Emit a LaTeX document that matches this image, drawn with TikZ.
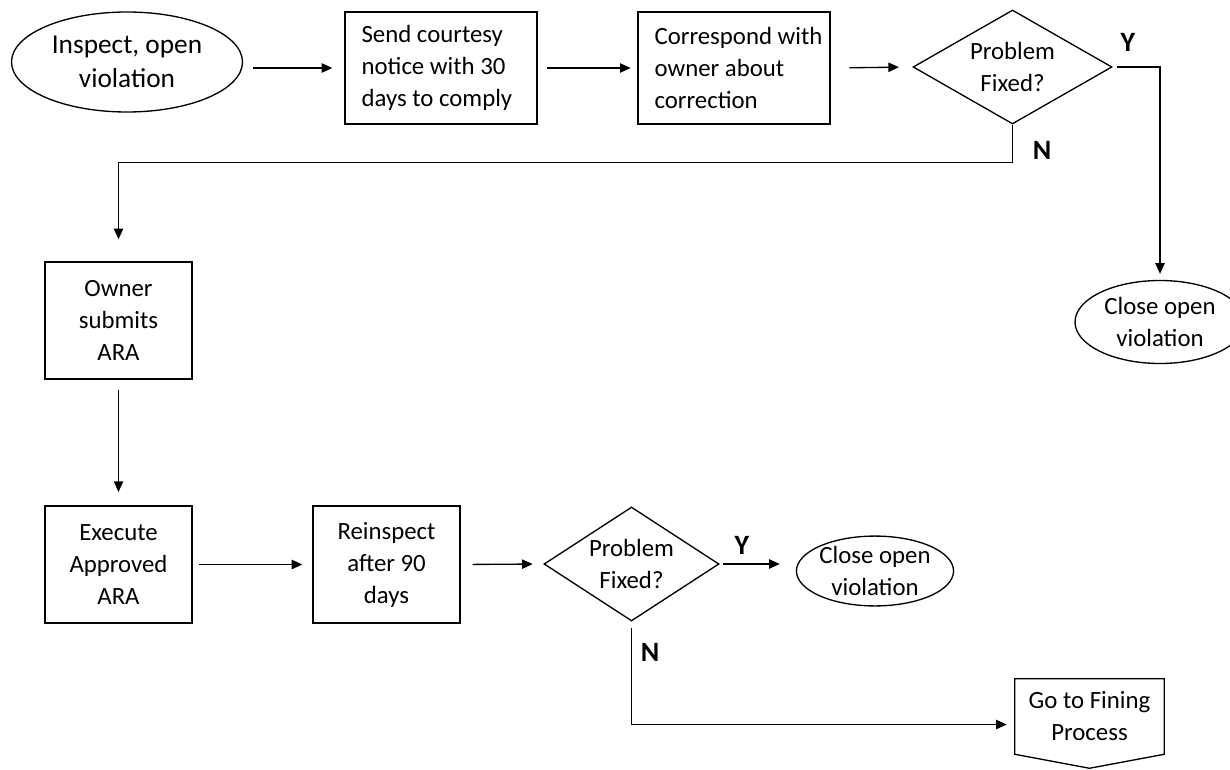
\documentclass[tikz,border=0pt]{standalone}
\usepackage{fontspec}
\setmainfont{Carlito}
\usetikzlibrary{shapes.geometric,arrows.meta,calc}
\begin{document}
\begin{tikzpicture}[x=0.75pt,y=-0.75pt,
  every node/.style={font=\fontsize{18.6}{24}\selectfont, inner sep=0pt},
  base/.style={draw, line width=1pt},
  procbox/.style={base, rectangle, minimum width=110.25pt, minimum height=87.75pt, align=center},
  notebox/.style={base, rectangle, minimum width=144pt, minimum height=84pt},
  notetext/.style={anchor=west, align=flush left},
  term/.style={base, ellipse, align=center},
  decision/.style={base, diamond, align=center},
  yn/.style={font=\fontsize{21}{24}\selectfont\bfseries},
  conn/.style={line width=1pt, -{Triangle[length=8pt,width=7pt]}},
  plain/.style={line width=1pt}
]
\useasboundingbox (0,0) rectangle (1230,770);

\node[term, minimum width=173.25pt, minimum height=75pt, font=\fontsize{20.5}{25}\selectfont] (e1) at (127,62) {Inspect, open\\violation};
\node[notebox] (b1) at (441,68) {};
\node[notetext] (t1) at ($(b1.west)+(17,0)$) {Send courtesy\\notice with 30\\days to comply};
\node[notebox] (b2) at (734,68) {};
\node[notetext] (t2) at ($(b2.west)+(17,0)$) {Correspond with\\owner about\\correction};
\node[decision, aspect=1.75, minimum width=149.25pt, minimum height=85.5pt] (d1) at (1012.5,67) {Problem\\Fixed?};
\node[term, minimum width=127.5pt, minimum height=62.25pt] (e2) at (1160,322) {Close open\\violation};
\node[procbox] (b3) at (118.5,320.5) {Owner\\submits\\ARA};
\node[procbox] (b4) at (118.5,564.5) {Execute\\Approved\\ARA};
\node[procbox] (b5) at (386.5,564.5) {Reinspect\\after 90\\days};
\node[decision, aspect=1.54, minimum width=131.25pt, minimum height=85.5pt] (d2) at (631.5,564) {Problem\\Fixed?};
\node[term, minimum width=115.5pt, minimum height=51pt] (e3) at (875,571) {Close open\\violation};
\node[rectangle, minimum width=111.75pt, minimum height=56.25pt, align=center] (fin) at (1089.5,716.5) {Go to Fining\\Process};
\draw[plain, line join=miter] (fin.north west) -- (fin.north east) -- (fin.south east) -- ($(fin.south)+(0,14)$) -- (fin.south west) -- cycle;

\node[yn] (y1) at (1128,42) {Y};
\node[yn] (n1) at (1042,150) {N};
\node[yn] (y2) at (742,545) {Y};
\node[yn] (n2) at (650,652) {N};

\draw[conn, shorten <=7.5pt, shorten >=9pt] (e1.east |- b1.west) -- (b1.west);
\draw[conn, shorten <=7pt, shorten >=5pt] (b1.east) -- (b2.west);
\draw[conn, shorten <=14pt, shorten >=10pt] (b2.east) -- (d1.west);
\draw[conn, shorten <=3pt, shorten >=4.5pt] (d1.east) -- (d1.east -| e2.north) -- (e2.north);
\draw[conn, shorten >=16.5pt] (d1.south) -- ($(d1.south)+(0,38)$) -| (b3.north);
\draw[conn, shorten <=7.5pt, shorten >=10pt] (b3.south) -- (b4.north);
\draw[conn, shorten <=5pt, shorten >=7.5pt] (b4.east) -- (b5.west);
\draw[conn, shorten <=9pt, shorten >=8pt] (b5.east) -- (d2.west);
\draw[conn, shorten <=2.5pt, shorten >=12pt] (d2.east) -- (d2.east -| e3.west);
\draw[conn, shorten <=4.5pt, shorten >=6pt] (d2.south) |- ($(fin.west)+(0,8)$);
\end{tikzpicture}
\end{document}
